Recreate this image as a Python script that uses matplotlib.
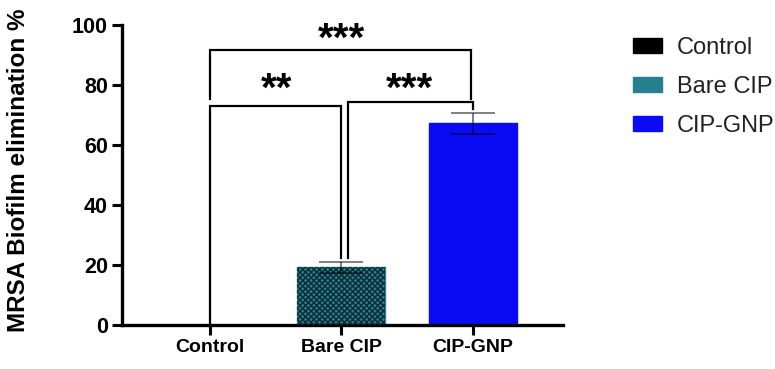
"""
MRSA biofilm elimination bar chart with significance brackets
"""

import matplotlib.pyplot as plt
from matplotlib.patches import Patch

# data
groups = ['Control', 'Bare CIP', 'CIP-GNP']
elimination = [0.0, 19.2, 67.3]
errors = [0.0, 1.8, 3.5]
y_ticks = [0, 20, 40, 60, 80, 100]
# (x1, x2, top, left leg end, right leg end, label)
brackets = [
    (0.0, 1.985, 91.7, 75.3, 75.3, '***'),
    (0.0, 1.0, 73.0, 0.0, 22.5, '**'),
    (1.05, 2.0, 74.3, 22.5, 72.0, '***'),
]

plt.rcParams['font.family'] = ['Liberation Sans', 'DejaVu Sans']
plt.rcParams['hatch.linewidth'] = 1.0

fig = plt.figure(figsize=(7.75, 3.69), dpi=100)
ax = fig.add_axes([0.157, 0.119, 0.570, 0.813])

x = list(range(len(groups)))
face = ['black', '#267f8e', '#0a0af5']
edge = ['black', '#2a8796', '#0a0af5']
ax.bar(x, elimination, width=0.67, color=face, edgecolor=edge, linewidth=1, zorder=2)
# dotted texture on Bare CIP
ax.bar(x[1], elimination[1], width=0.67, facecolor='none', edgecolor='#0b2a33',
       hatch='xxxxxx', linewidth=0, zorder=3)
ax.errorbar(x[1:], elimination[1:], yerr=errors[1:], fmt='none', ecolor='black',
            alpha=0.5, elinewidth=1.4, capsize=16, capthick=1.4, zorder=4)

# significance brackets
for x1, x2, top, l1, l2, lab in brackets:
    ax.plot([x1, x1, x2, x2], [l1, top, top, l2], color='black', lw=1.6,
            zorder=5, clip_on=False, solid_joinstyle='miter')

star_kw = dict(ha='center', va='center', fontsize=29, fontweight='bold')
ax.text(0.51, 78.5, '**', **star_kw)
ax.text(1.52, 78.5, '***', **star_kw)
ax.text(1.0, 95.0, '***', **star_kw)

ax.set_xlim(-0.67, 2.69)
ax.set_ylim(0, 100)
ax.set_yticks(y_ticks)
ax.set_xticks(x)
ax.set_xticklabels(groups, fontsize=14, fontweight='bold')
for lab in ax.get_yticklabels():
    lab.set_fontsize(15.5)
    lab.set_fontweight('bold')
ax.set_ylabel('MRSA Biofilm elimination %', fontsize=17.5, fontweight='bold')
ax.yaxis.set_label_coords(-0.208, 0.515)

for s in ['top', 'right']:
    ax.spines[s].set_visible(False)
for s in ['left', 'bottom']:
    ax.spines[s].set_linewidth(2.4)
ax.tick_params(axis='both', width=2.2, length=7, pad=3)

handles = [Patch(facecolor=face[0], edgecolor=face[0]),
           Patch(facecolor=face[1], edgecolor=face[1], hatch='xxxx'),
           Patch(facecolor=face[2], edgecolor=face[2])]
fig.legend(handles, groups, loc='upper left', bbox_to_anchor=(0.817, 0.90),
           frameon=False, fontsize=17, handlelength=1.2, handleheight=0.62,
           handletextpad=0.66, labelspacing=0.72, borderpad=0, borderaxespad=0,
           labelcolor='#222222')

plt.savefig('out.png', dpi=100)
plt.close()
